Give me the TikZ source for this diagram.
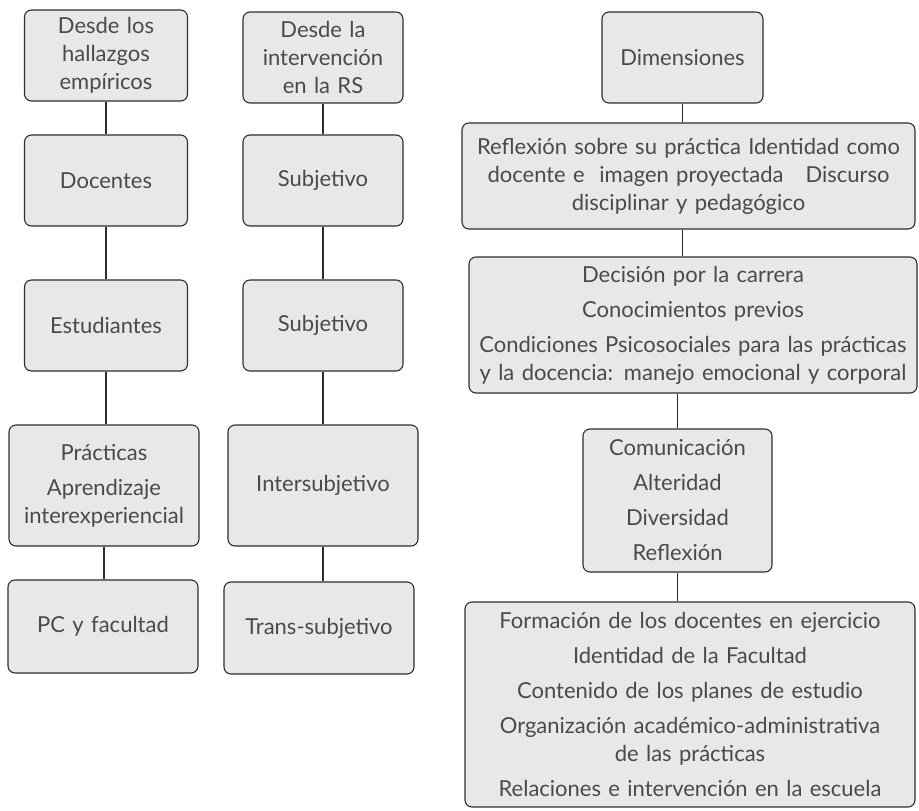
\documentclass[tikz,border=0pt]{standalone}
\usepackage{fontspec}
\setmainfont{Lato}
\usepackage{tikz}
\usetikzlibrary{positioning}
\definecolor{boxfill}{HTML}{E8E8E8}
\definecolor{boxline}{HTML}{2E2E2E}
\definecolor{boxtext}{HTML}{4A4A4A}
\tikzstyle{box} = [rectangle, rounded corners=7pt,
line width=1.1pt,
draw=boxline,
fill=boxfill,
text=boxtext,
inner sep=2pt,
align=center,
font=\fontsize{22}{28}\selectfont]
\tikzstyle{link} = [line width=1.1pt, draw=boxline]

\begin{document}
\begin{tikzpicture}[x=1pt, y=-1pt]
\useasboundingbox (0,0) rectangle (919,811);

% columna de los hallazgos
\node (a1) [box, minimum width=163pt, minimum height=91pt, text width=155pt] at (106,55.5) {Desde los\\hallazgos\\empíricos};
\node (a2) [box, minimum width=163pt, minimum height=91pt, text width=155pt, below of=a1, node distance=125pt] {Docentes};
\node (a3) [box, minimum width=163pt, minimum height=91pt, text width=155pt, below of=a2, node distance=145pt] {Estudiantes};
\node (a4) [box, minimum width=190pt, minimum height=121pt, text width=184pt, below of=a3, node distance=160pt, xshift=-2pt] {Prácticas\\[7pt]Aprendizaje\\interexperiencial};
\node (a5) [box, minimum width=190pt, minimum height=93pt, text width=184pt, below of=a4, node distance=141pt, xshift=-1pt] {PC y facultad};

% columna de la intervencion
\node (b1) [box, minimum width=160pt, minimum height=91pt, text width=154pt] at (323,57.5) {Desde la\\intervención\\en la RS};
\node (b2) [box, minimum width=160pt, minimum height=91pt, text width=154pt, below of=b1, node distance=123pt] {Subjetivo};
\node (b3) [box, minimum width=160pt, minimum height=91pt, text width=154pt, below of=b2, node distance=145pt] {Subjetivo};
\node (b4) [box, minimum width=190pt, minimum height=121pt, text width=184pt, below of=b3, node distance=160pt] {Intersubjetivo};
\node (b5) [box, minimum width=190pt, minimum height=92pt, text width=184pt, below of=b4, node distance=142.5pt, xshift=-4pt] {Trans-subjetivo};

% columna de las dimensiones
\node (c1) [box, minimum width=161pt, minimum height=91pt, text width=155pt] at (682.5,57.5) {Dimensiones};
\node (c2) [box, minimum width=453pt, minimum height=106pt, text width=447pt, below of=c1, node distance=118.5pt, xshift=6pt] {Reflexión sobre su práctica Identidad como\\docente e\ \ imagen proyectada\ \ \ Discurso\\disciplinar y pedagógico};
\node (c3) [box, minimum width=448pt, minimum height=136pt, text width=442pt, below of=c2, node distance=149pt, xshift=4.5pt] {Decisión por la carrera\\[7pt]Conocimientos previos\\[7pt]Condiciones Psicosociales para las prácticas\\y la docencia: manejo emocional y corporal};
\node (c4) [box, minimum width=189pt, minimum height=143pt, text width=183pt, below of=c3, node distance=175.5pt, xshift=-15.5pt] {Comunicación\\[7pt]Alteridad\\[7pt]Diversidad\\[7pt]Reflexión};
\node (c5) [box, minimum width=450pt, minimum height=205pt, text width=444pt, below of=c4, node distance=204pt, xshift=12.5pt] {Formación de los docentes en ejercicio\\[7pt]Identidad de la Facultad\\[7pt]Contenido de los planes de estudio\\[7pt]Organización académico-administrativa\\de las prácticas\\[7pt]Relaciones e intervención en la escuela};

\draw [link] (a1) -- (a2);
\draw [link] (a2) -- (a3);
\draw [link] (a3.south) -- (a3.south |- a4.north);
\draw [link] (a4.south) -- (a4.south |- a5.north);
\draw [link] (b1) -- (b2);
\draw [link] (b2) -- (b3);
\draw [link] (b3) -- (b4);
\draw [link] (b4.south) -- (b4.south |- b5.north);
\draw [link] (c1.south) -- (c1.south |- c2.north);
\draw [link] (c1.south |- c2.south) -- (c1.south |- c3.north);
\draw [link] (c4.north |- c3.south) -- (c4.north);
\draw [link] (c4.south) -- (c4.south |- c5.north);

\end{tikzpicture}
\end{document}
